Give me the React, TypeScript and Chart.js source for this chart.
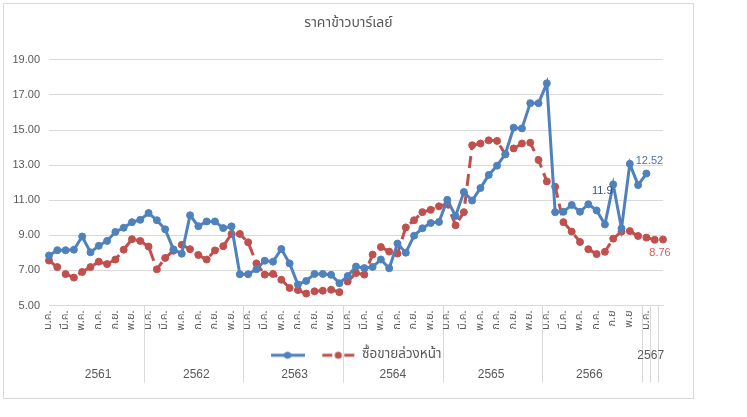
import React, { useEffect, useRef } from 'react';
import { Chart, registerables } from 'chart.js';

Chart.register(...registerables);

const chartTitle = 'ราคาข้าวบาร์เลย์';
const seriesNames = ['', 'ซื้อขายล่วงหน้า'];

const monthNames = ['ม.ค.', 'ก.พ.', 'มี.ค.', 'เม.ย.', 'พ.ค.', 'มิ.ย.', 'ก.ค.', 'ส.ค.', 'ก.ย.', 'ต.ค.', 'พ.ย.', 'ธ.ค.'];
const years = ['2561', '2562', '2563', '2564', '2565', '2566', '2567'];
const monthsPerYear = [12, 12, 12, 12, 12, 12, 3];

const monthTicksStd = ['ม.ค.', '', 'มี.ค.', '', 'พ.ค.', '', 'ก.ค.', '', 'ก.ย.', '', 'พ.ย.', ''];
const monthTicks2566 = ['ม.ค.', '', 'มี.ค.', '', 'พ.ค.', '', 'ก.ค.', '', 'ก.ย', '', 'พ.ย', ''];
const monthTicks2567 = ['ม.ค.', '', ''];

const yTicks = [5, 7, 9, 11, 13, 15, 17, 19];

// ราคา (blue)
const priceValues = [
  7.85, 8.15, 8.15, 8.18, 8.93, 8.03, 8.4, 8.68, 9.19, 9.43, 9.75, 9.88,
  10.27, 9.86, 9.34, 8.2, 7.95, 10.14, 9.52, 9.79, 9.79, 9.41, 9.51, 6.78,
  6.78, 7.07, 7.55, 7.5, 8.22, 7.4, 6.2, 6.4, 6.8, 6.8, 6.75, 6.27,
  6.68, 7.22, 7.13, 7.2, 7.62, 7.12, 8.53, 8.01, 8.98, 9.4, 9.7, 9.76,
  11.02, 10.1, 11.47, 10.98, 11.69, 12.44, 12.97, 13.63, 15.13, 15.09, 16.53, 16.53,
  17.66, 10.32, 10.34, 10.73, 10.34, 10.77, 10.42, 9.62, 11.9, 9.39, 13.07, 11.86,
  12.52,
];

// ซื้อขายล่วงหน้า (red dashed)
const forwardValues = [
  7.56, 7.19, 6.79, 6.59, 6.91, 7.19, 7.5, 7.36, 7.62, 8.18, 8.78, 8.68,
  8.36, 7.06, 7.71, 8.12, 8.46, 8.21, 7.88, 7.62, 8.14, 8.38, 9.08, 9.08,
  8.6, 7.4, 6.76, 6.8, 6.47, 6.0, 5.88, 5.68, 5.81, 5.84, 5.9, 5.76,
  6.37, 6.85, 6.76, 7.9, 8.33, 8.07, 7.96, 9.45, 9.86, 10.32, 10.45, 10.65,
  10.78, 9.57, 10.32, 14.13, 14.23, 14.41, 14.38, 13.61, 13.95, 14.23, 14.28, 13.29,
  12.07, 11.77, 9.75, 9.21, 8.62, 8.21, 7.93, 8.06, 8.81, 9.21, 9.24, 8.96,
  8.87, 8.74, 8.76,
];

const labeledPoints = [
  { ds: 0, idx: 68 },
  { ds: 0, idx: 72 },
  { ds: 1, idx: 74 },
];

const BLUE = '#4f81bd';
const RED = '#c0504d';
const GRID = '#d9d9d9';
const TEXT = '#595959';
const THAI = 'Tahoma, "Noto Sans Thai", "Noto Sans Thai UI", Garuda, Loma, "DejaVu Sans", sans-serif';
const NUM = '"Liberation Sans", Arial, sans-serif';

const categories: string[] = [];
const yearStarts: number[] = [];
const yearCenters: number[] = [];
{
  let start = 0;
  years.forEach((y, k) => {
    const n = monthsPerYear[k];
    yearStarts.push(start);
    yearCenters.push(start + n / 2 - 0.5);
    for (let m = 0; m < n; m++) categories.push(monthNames[m] + ' ' + y);
    start += n;
  });
}
const monthTickLabels = [
  ...monthTicksStd, ...monthTicksStd, ...monthTicksStd, ...monthTicksStd, ...monthTicksStd,
  ...monthTicks2566, ...monthTicks2567,
];
const lastGroupStart = yearStarts[yearStarts.length - 1];

function makeSymbol(color: string, dashed: boolean) {
  const c = document.createElement('canvas');
  c.width = 34;
  c.height = 10;
  const g = c.getContext('2d')!;
  g.strokeStyle = color;
  g.fillStyle = color;
  g.lineWidth = 3;
  if (dashed) {
    g.beginPath(); g.moveTo(1, 5); g.lineTo(11, 5); g.stroke();
    g.beginPath(); g.moveTo(23, 5); g.lineTo(33, 5); g.stroke();
  } else {
    g.beginPath(); g.moveTo(0, 5); g.lineTo(34, 5); g.stroke();
  }
  g.beginPath(); g.arc(17, 5, 3.6, 0, Math.PI * 2); g.fill();
  return c;
}

const labelPlugin = {
  id: 'pointValueLabels',
  afterDatasetsDraw(chart: any) {
    const ctx = chart.ctx;
    const styles = [
      { dx: -11, dy: 7, color: '#2f528f' },
      { dx: 3, dy: -13, color: '#4a72b0' },
      { dx: -3, dy: 13, color: '#d0605c' },
    ];
    ctx.save();
    ctx.font = '11px ' + NUM;
    ctx.textAlign = 'center';
    ctx.textBaseline = 'middle';
    labeledPoints.forEach((p, k) => {
      const el = chart.getDatasetMeta(p.ds).data[p.idx];
      if (!el) return;
      const v = chart.data.datasets[p.ds].data[p.idx];
      ctx.fillStyle = styles[k].color;
      ctx.fillText(String(v), el.x + styles[k].dx, el.y + styles[k].dy);
    });
    ctx.restore();
  },
};

export default function App() {
  const ref = useRef<HTMLCanvasElement | null>(null);
  useEffect(() => {
    if (!ref.current) return;
    const symbols = [makeSymbol(BLUE, false), makeSymbol(RED, true)];
    const lastYear = years.length - 1;
    const chart = new Chart(ref.current, {
      type: 'line',
      data: {
        labels: categories,
        datasets: [
          {
            label: seriesNames[0],
            data: priceValues,
            borderColor: BLUE,
            backgroundColor: BLUE,
            borderWidth: 3,
            pointRadius: 3.5,
            pointBackgroundColor: BLUE,
            pointBorderColor: BLUE,
            pointBorderWidth: 1,
            tension: 0,
            xAxisID: 'x',
          },
          {
            label: seriesNames[1],
            data: forwardValues,
            borderColor: RED,
            backgroundColor: RED,
            borderWidth: 3,
            borderDash: [12, 6],
            pointRadius: 3.5,
            pointBackgroundColor: RED,
            pointBorderColor: RED,
            pointBorderWidth: 1,
            tension: 0,
            xAxisID: 'x',
          },
        ],
      },
      options: {
        responsive: false,
        animation: false,
        layout: { padding: { left: 0, right: 50, top: 0, bottom: 30 } },
        plugins: {
          title: {
            display: true,
            text: chartTitle,
            color: TEXT,
            font: { family: THAI, size: 14, weight: 'normal' },
            padding: { top: 16, bottom: 27 },
          },
          legend: {
            position: 'bottom',
            fullSize: false,
            labels: {
              usePointStyle: true,
              pointStyleWidth: 34,
              color: TEXT,
              font: { family: THAI, size: 13.5 },
              padding: 10,
              generateLabels: (c: any) => {
                const items = (Chart.defaults as any).plugins.legend.labels.generateLabels(c);
                items.forEach((it: any, i: number) => { it.pointStyle = symbols[i]; });
                return items;
              },
            },
          },
          tooltip: { enabled: false },
        },
        scales: {
          y: {
            min: yTicks[0],
            max: yTicks[yTicks.length - 1],
            afterBuildTicks: (s: any) => { s.ticks = yTicks.map((v) => ({ value: v })); },
            ticks: {
              callback: (v: any) => Number(v).toFixed(2),
              color: TEXT,
              font: { family: NUM, size: 11 },
              padding: 9,
            },
            grid: { color: GRID, drawTicks: false },
            border: { display: false },
            afterFit: (s: any) => { s.width = 49; },
          },
          yRight: {
            type: 'linear',
            position: 'right',
            display: true,
            grid: { display: false, drawTicks: false },
            border: { display: false },
            ticks: { display: false },
            afterFit: (s: any) => { s.width = 34; },
          },
          x: {
            type: 'category',
            grid: {
              display: true,
              drawOnChartArea: false,
              drawTicks: true,
              tickLength: 77,
              tickWidth: 1,
              offset: true,
              tickColor: (c: any) =>
                c.index === undefined || yearStarts.includes(c.index) || c.index >= lastGroupStart
                  ? GRID
                  : 'rgba(0,0,0,0)',
            },
            border: { display: true, color: GRID },
            ticks: {
              autoSkip: false,
              minRotation: 90,
              maxRotation: 90,
              padding: -72,
              callback: (_v: any, i: number) => monthTickLabels[i],
              color: TEXT,
              font: { family: THAI, size: 11 },
            },
            afterFit: (s: any) => { s.height = 33; },
          },
          x2: {
            type: 'linear',
            position: 'bottom',
            weight: 2000,
            min: -0.5,
            max: categories.length - 0.5,
            grid: { display: false, drawTicks: false },
            border: { display: false },
            afterBuildTicks: (s: any) => { s.ticks = yearCenters.map((v) => ({ value: v })); },
            ticks: {
              autoSkip: false,
              maxRotation: 0,
              mirror: true,
              padding: 7,
              callback: (_v: any, i: number) => (i === lastYear ? [years[i]] : ['', years[i]]),
              color: TEXT,
              font: { family: NUM, size: 12, lineHeight: '19px' },
            },
            afterFit: (s: any) => { s.height = 15; },
          },
        },
      } as any,
      plugins: [labelPlugin],
    });
    return () => chart.destroy();
  }, []);

  return (
    <div style={{ position: 'absolute', left: 0, top: 0, width: 747, height: 417, background: '#fff' }}>
      <canvas ref={ref} width={747} height={417} style={{ display: 'block' }} />
      <div
        style={{
          position: 'absolute', left: 3, top: 3, width: 691, height: 396,
          border: '1px solid ' + GRID, boxSizing: 'border-box', pointerEvents: 'none',
        }}
      />
    </div>
  );
}
